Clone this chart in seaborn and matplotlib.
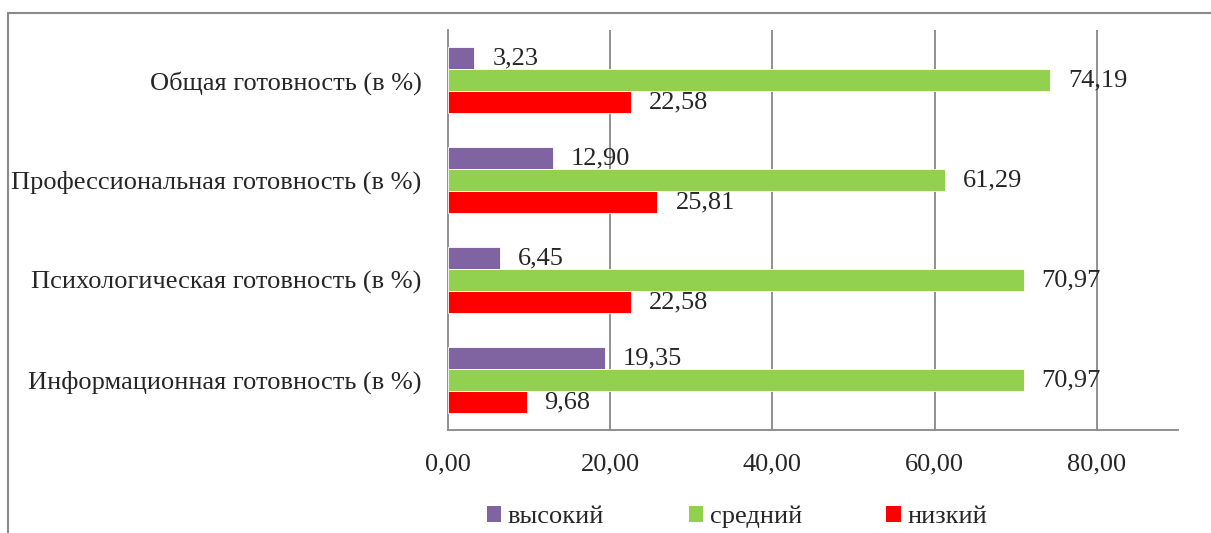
import matplotlib
matplotlib.use("Agg")
import matplotlib.pyplot as plt
from matplotlib.patches import Patch
from matplotlib.lines import Line2D
import seaborn as sns
import pandas as pd

categories = [
    "Общая готовность (в %)",
    "Профессиональная готовность (в %)",
    "Психологическая готовность (в %)",
    "Информационная готовность (в %)",
]
levels = ["высокий", "средний", "низкий"]
high = [3.23, 12.90, 6.45, 19.35]
medium = [74.19, 61.29, 70.97, 70.97]
low = [22.58, 25.81, 22.58, 9.68]
x_ticks = [0, 20, 40, 60, 80]

colors = {"высокий": "#8064A2", "средний": "#92D050", "низкий": "#FF0000"}

rows = []
for series_name, values in zip(levels, [high, medium, low]):
    for cat, v in zip(categories, values):
        rows.append({"category": cat, "level": series_name, "value": v})
df = pd.DataFrame(rows)

sns.set_style("white")
plt.rcParams["font.family"] = ["Liberation Serif", "DejaVu Serif"]
FS = 19

fig = plt.figure(figsize=(12.11, 5.33), dpi=100)
ax = fig.add_axes([448 / 1211, 1 - 430 / 533, (1178 - 448) / 1211, 400 / 533])

sns.barplot(
    data=df, y="category", x="value", hue="level",
    order=categories, hue_order=levels, palette=colors, saturation=1,
    orient="h", width=0.66, errorbar=None, ax=ax,
    edgecolor="white", linewidth=0.6, legend=False, zorder=3,
)

grid_c = "#888888"
ax.set_xlim(0, 90)
ax.set_ylim(len(categories) - 0.5, -0.5)
ax.set_xticks(x_ticks)
ax.set_xticklabels([f"{t:.2f}".replace(".", ",") for t in x_ticks], fontsize=FS)
for t in x_ticks[1:]:
    ax.axvline(t, color=grid_c, lw=1.3, zorder=1)
ax.tick_params(axis="x", length=7, width=1.3, color=grid_c, pad=10, direction="out")
ax.tick_params(axis="y", which="major", length=0, pad=19, labelsize=FS)
ax.set_yticks([i - 0.5 for i in range(len(categories) + 1)], minor=True)
ax.tick_params(axis="y", which="minor", length=7, width=1.3, color=grid_c, direction="out")
ax.set_xlabel("")
ax.set_ylabel("")
for s in ["top", "right"]:
    ax.spines[s].set_visible(False)
for s in ["left", "bottom"]:
    ax.spines[s].set_color(grid_c)
    ax.spines[s].set_linewidth(1.3)

# value labels next to each bar
for container in ax.containers:
    ax.bar_label(
        container,
        labels=[f"{v:.2f}".replace(".", ",") for v in container.datavalues],
        padding=13, fontsize=FS, zorder=4,
    )

handles = [Patch(facecolor=colors[l], edgecolor="none") for l in levels]
fig.legend(
    handles, levels, loc="center", bbox_to_anchor=(737 / 1211, 1 - 517 / 533),
    ncol=3, frameon=False, fontsize=FS, handlelength=0.55, handleheight=0.55,
    handletextpad=0.25, columnspacing=3.2,
)

# outer chart frame
fig.add_artist(Line2D([8 / 1211, 1.0], [1 - 13 / 533] * 2, color="#8a8a8a", lw=1.5))
fig.add_artist(Line2D([8 / 1211] * 2, [0.0, 1 - 13 / 533], color="#8a8a8a", lw=1.5))

fig.savefig("out.png", dpi=100)
